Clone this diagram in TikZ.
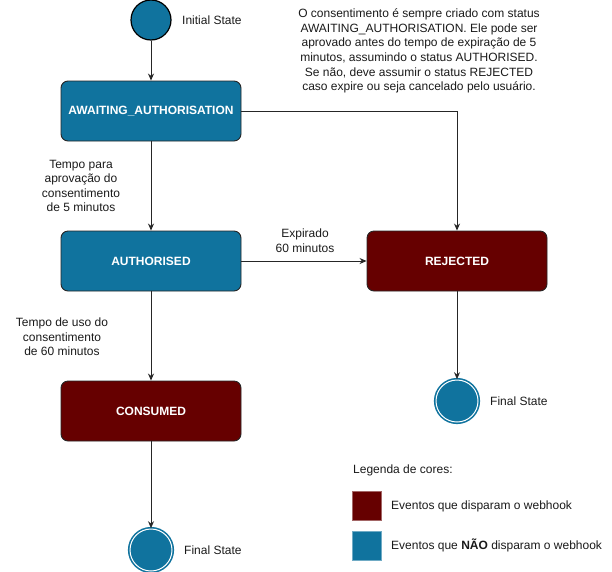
\documentclass[tikz,border=0pt]{standalone}
\usepackage{fontspec}
\setmainfont{Liberation Sans}
\usetikzlibrary{arrows.meta}
\definecolor{sblue}{HTML}{10739E}
\definecolor{sred}{HTML}{660000}
\definecolor{txt}{HTML}{1A1A1A}
\begin{document}
\begin{tikzpicture}[x=1pt,y=-1pt,
  font=\fontsize{12}{14.6}\selectfont,
  every node/.style={text=txt},
  statebox/.style={draw=black!85, rounded corners=7pt, minimum width=180pt, minimum height=60pt,
    text=white, font=\fontsize{12}{14}\selectfont\bfseries, line width=0.9pt, inner sep=0pt},
  bluebox/.style={statebox, fill=sblue},
  redbox/.style={statebox, fill=sred},
  initstate/.style={circle, draw=black, line width=1.2pt, fill=sblue, minimum size=40pt, inner sep=0pt},
  finalstate/.style={circle, draw=sblue, fill=sblue, double=white, double distance=1pt, line width=1.6pt, minimum size=42pt, inner sep=0pt},
  arr/.style={-{Stealth[length=7pt,width=6pt]}, draw=black!85, line width=0.9pt},
  lbl/.style={align=center, inner sep=0pt},
  legsq/.style={minimum size=29pt, inner sep=0pt, line width=0.8pt}
]
\useasboundingbox (0,0) rectangle (612,571);

\node[initstate] (init) at (151,20) {};
\node[lbl, anchor=west] (initl) at (182,20) {Initial State};

\node[bluebox] (aw) at (151,111) {AWAITING\_AUTHORISATION};
\node[bluebox] (au) at (151,261) {AUTHORISED};
\node[redbox] (rej) at (457,261) {REJECTED};
\node[redbox] (con) at (151,411) {CONSUMED};

\node[finalstate] (f1) at (457,401) {};
\node[lbl, anchor=west] (f1l) at (490,401) {Final State};
\node[finalstate] (f2) at (151,550) {};
\node[lbl, anchor=west] (f2l) at (184,550) {Final State};

\draw[arr] (init) -- (aw);
\draw[arr] (aw) -- (au);
\draw[arr] (aw.east) -| (rej.north);
\draw[arr] (au) -- (rej);
\draw[arr] (au) -- (con);
\draw[arr] (rej) -- (f1);
\draw[arr] (con) -- (f2);

\node[lbl] (l1) at (81,186) {Tempo para\\aprovação do\\consentimento\\de 5 minutos};
\node[lbl] (l2) at (305,241) {Expirado\\60 minutos};
\node[lbl] (l3) at (62,337) {Tempo de uso do\\consentimento\\de 60 minutos};

\node[lbl] (note) at (419,51) {O consentimento é sempre criado com status\\AWAITING\_AUTHORISATION. Ele pode ser\\aprovado antes do tempo de expiração de 5\\minutos, assumindo o status AUTHORISED.\\Se não, deve assumir o status REJECTED\\caso expire ou seja cancelado pelo usuário.};

\node[lbl, anchor=west] (leg) at (353,470) {Legenda de cores:};
\node[legsq, fill=sred, draw=sred!60!white] (sqr) at (367,506) {};
\node[legsq, fill=sblue, draw=sblue!60!white] (sqb) at (367,545.5) {};
\node[lbl, anchor=west] (legr) at (391,506) {Eventos que disparam o webhook};
\node[lbl, anchor=west] (legb) at (391,545.5) {Eventos que \textbf{NÃO} disparam o webhook};
\end{tikzpicture}
\end{document}
